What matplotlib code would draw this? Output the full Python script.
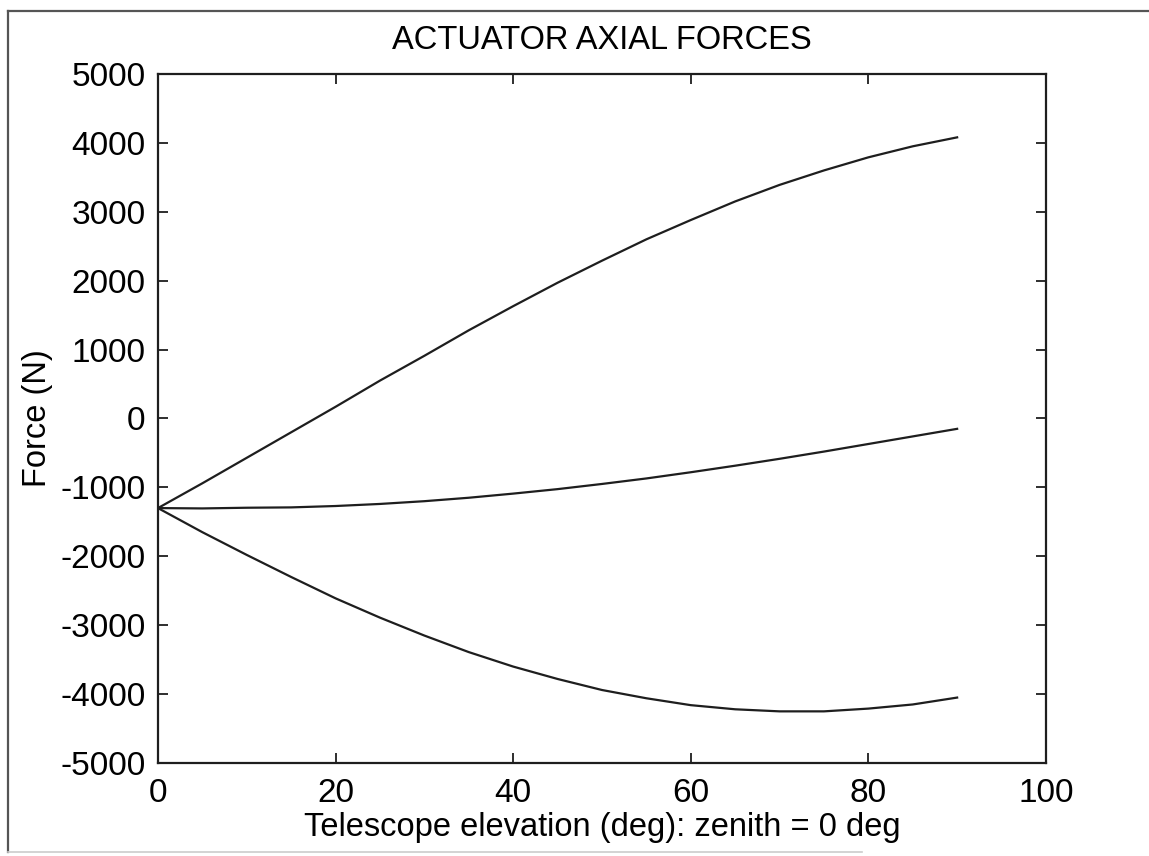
import matplotlib
matplotlib.use("Agg")
import matplotlib.pyplot as plt
from matplotlib.lines import Line2D

# telescope elevation (deg) and actuator forces (N)
elevation = [0, 5, 10, 15, 20, 25, 30, 35, 40, 45, 50, 55, 60, 65, 70, 75, 80, 85, 90]
force_upper = [-1300, -940, -570, -200, 170, 550, 910, 1280, 1630, 1970, 2290,
               2600, 2880, 3150, 3390, 3600, 3790, 3950, 4080]
force_middle = [-1300, -1305, -1295, -1290, -1270, -1240, -1200, -1150, -1090, -1025,
                -950, -870, -780, -685, -585, -480, -370, -260, -150]
force_lower = [-1300, -1650, -1980, -2300, -2610, -2890, -3150, -3390, -3600, -3780,
               -3940, -4060, -4160, -4220, -4250, -4250, -4210, -4150, -4050]

x_ticks = [0, 20, 40, 60, 80, 100]
y_ticks = [-5000, -4000, -3000, -2000, -1000, 0, 1000, 2000, 3000, 4000, 5000]

plt.rcParams["font.family"] = ["Liberation Sans", "DejaVu Sans"]
plt.rcParams["axes.unicode_minus"] = False
line_color = "#1e1e1e"

fig = plt.figure(figsize=(11.49, 8.56), dpi=100)
fig.patch.set_facecolor("white")
ax = fig.add_axes([0.1375, 0.1086, 0.7728, 0.805])

for series in (force_upper, force_middle, force_lower):
    ax.plot(elevation, series, color=line_color, linewidth=1.6)

ax.set_xlim(0, 100)
ax.set_ylim(-5000, 5000)
ax.set_xticks(x_ticks)
ax.set_yticks(y_ticks)
ax.tick_params(direction="in", length=7, width=1.3, labelsize=24,
               top=True, right=True, colors=line_color, labelcolor="black")
ax.tick_params(axis="x", pad=11)
ax.tick_params(axis="y", pad=9)
for side in ax.spines.values():
    side.set_linewidth(1.6)
    side.set_color(line_color)

ax.set_title("ACTUATOR AXIAL FORCES", fontsize=23.5, pad=18)
ax.set_xlabel("Telescope elevation (deg): zenith = 0 deg", fontsize=23.5, labelpad=2)
ax.set_ylabel("Force (N)", fontsize=23.5, labelpad=5)

# outer frame of the scanned figure
fw, fh = 1149, 856
frame = dict(color="#555555", linewidth=1.6, transform=fig.transFigure)
fig.add_artist(Line2D([8 / fw, 8 / fw], [1 - 11 / fh, 1 - 852 / fh], **frame))
fig.add_artist(Line2D([8 / fw, 1.0], [1 - 11 / fh, 1 - 11 / fh], **frame))
fig.add_artist(Line2D([8 / fw, 0.75], [1 - 852 / fh, 1 - 852 / fh],
                      color="#cccccc", linewidth=1.2, transform=fig.transFigure))

plt.savefig("out.png", dpi=100, facecolor="white")
plt.close(fig)
